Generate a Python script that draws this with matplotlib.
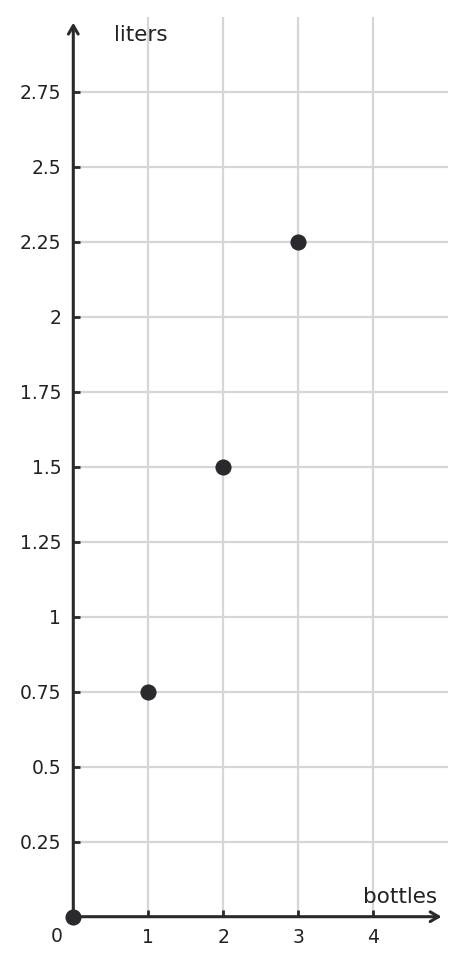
import matplotlib
matplotlib.use("Agg")
import matplotlib.pyplot as plt

bottles = [0, 1, 2, 3]
liters = [0, 0.75, 1.5, 2.25]
x_ticks = [1, 2, 3, 4]
y_ticks = [0.25, 0.5, 0.75, 1, 1.25, 1.5, 1.75, 2, 2.25, 2.5, 2.75]
y_tick_labels = ["0.25", "0.5", "0.75", "1", "1.25", "1.5", "1.75", "2", "2.25", "2.5", "2.75"]
x_label = "bottles"
y_label = "liters"

W, H = 466, 965
dark = "#2a2a2e"
grid_c = "#d6d6d6"

fig = plt.figure(figsize=(W / 100, H / 100), dpi=100)
ax = fig.add_axes([73.3 / W, (H - 916.7) / H, 375 / W, 900 / H])
ax.set_xlim(0, 5)
ax.set_ylim(0, 3)
for s in ax.spines.values():
    s.set_visible(False)

ax.set_xticks(x_ticks)
ax.set_xticklabels([str(v) for v in x_ticks])
ax.set_yticks(y_ticks)
ax.set_yticklabels(y_tick_labels)
ax.tick_params(axis="both", direction="in", length=5, width=2, color=dark,
               labelcolor="#222222", labelsize=13.5)
ax.tick_params(axis="y", pad=8.6)
ax.tick_params(axis="x", pad=8.2)
ax.grid(True, color=grid_c, linewidth=1.6, zorder=0)
ax.set_axisbelow(True)

# axes with arrows
ax.annotate("", xy=(4.91, 0), xytext=(0, 0),
            arrowprops=dict(arrowstyle="->,head_length=0.6,head_width=0.35", color=dark,
                            lw=2.2, shrinkA=0, shrinkB=0), annotation_clip=False, zorder=3)
ax.annotate("", xy=(0, 2.98), xytext=(0, 0),
            arrowprops=dict(arrowstyle="->,head_length=0.6,head_width=0.35", color=dark,
                            lw=2.2, shrinkA=0, shrinkB=0), annotation_clip=False, zorder=3)

ax.text(-0.22, -0.065, "0", ha="center", va="center", fontsize=13.5, color="#222222")
ax.text(0.9, 2.94, y_label, ha="center", va="center", fontsize=15.5, color="#222222")
ax.text(4.36, 0.067, x_label, ha="center", va="center", fontsize=15.5, color="#222222")

ax.scatter(bottles, liters, s=135, color=dark, zorder=5, clip_on=False, linewidths=0)

fig.savefig("out.png", dpi=100)
